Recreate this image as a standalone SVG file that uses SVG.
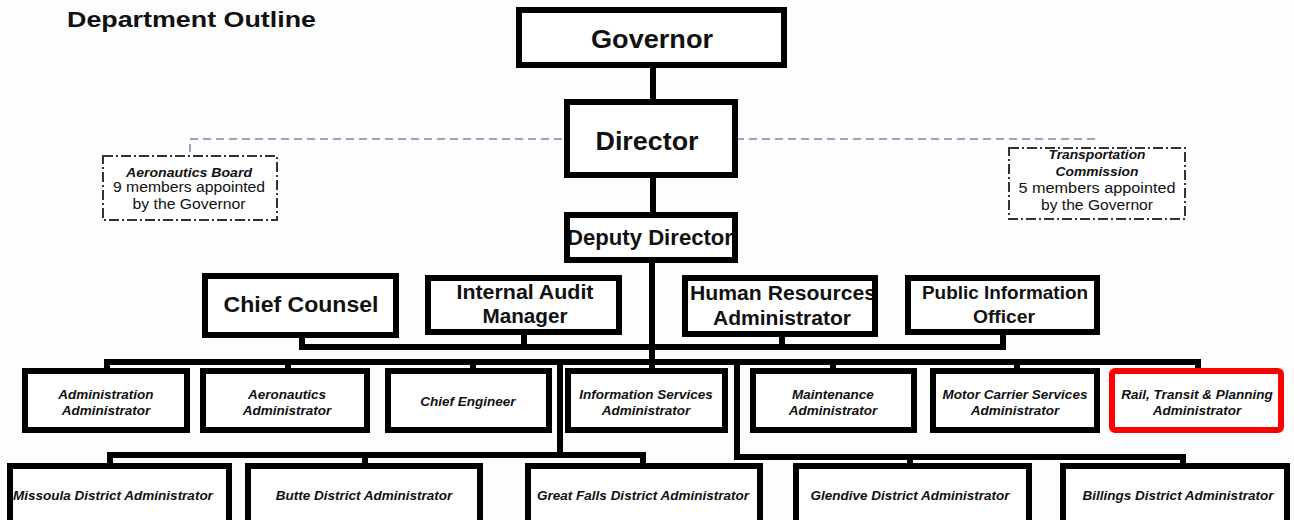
<svg xmlns="http://www.w3.org/2000/svg" width="1294" height="520" viewBox="0 0 1294 520">
<style>
.bg{fill:#fff}
.box{fill:#fff;stroke:#000;stroke-width:6}
.bd{fill:none;stroke:#000;stroke-width:6}
.red{fill:#fff;stroke:#ff0000;stroke-width:6}
.dbox{fill:#fff;stroke:#333;stroke-width:2;stroke-dasharray:10 3 2 3}
.c{fill:none;stroke:#000;stroke-width:6}
.blue{fill:none;stroke:#9aa3c6;stroke-width:2;stroke-dasharray:8 5}
text{font-family:"Liberation Sans",Arial,sans-serif;fill:#111}
.b{font-weight:bold;text-anchor:middle}
.it{font-weight:bold;font-style:italic;font-size:13.5px;text-anchor:middle}
.rg{font-size:14px;text-anchor:middle}
</style>
<rect width="1294" height="520" fill="#fdfdfd"/>
<text x="67" y="27" font-size="22" font-weight="bold" textLength="249" lengthAdjust="spacingAndGlyphs">Department Outline</text>

<g id="connectors">
  <path class="blue" d="M190 152 V139 H566 M736 139 H1100"/>
  <path class="c" d="M653 66 V101 M653 176 V214 M652 261 V370"/>
  <path class="c" d="M302 336 V347 H1003 V334 M524 333 V347 M782 335 V347"/>
  <path class="c" d="M107 370 V362 H1198 V370 M288 362 V370 M473 362 V370 M833 362 V370 M1017 362 V370"/>
  <path class="c" d="M560 362 V455 M110 466 V455 H643 V466 M365 455 V466"/>
  <path class="c" d="M737 362 V457 H1183 V466 M910 457 V466"/>
</g>

<g id="governor"><rect class="box" x="519" y="10" width="265" height="55"/>
<text class="b" x="652" y="48" font-size="26" textLength="122" lengthAdjust="spacingAndGlyphs">Governor</text></g>

<g id="director"><rect class="box" x="567" y="102" width="168" height="73"/>
<text class="b" x="647" y="150" font-size="26" textLength="103" lengthAdjust="spacingAndGlyphs">Director</text></g>

<g id="deputy-director"><rect class="bg" x="567" y="215" width="168" height="45"/>
<text class="b" x="650" y="245" font-size="22" textLength="166" lengthAdjust="spacingAndGlyphs">Deputy Director</text>
<rect class="bd" x="567" y="215" width="168" height="45"/></g>

<g id="aeronautics-board"><rect class="dbox" x="103" y="156" width="174" height="64"/>
<text class="it" x="189" y="177" textLength="126" lengthAdjust="spacingAndGlyphs">Aeronautics Board</text>
<text class="rg" x="189" y="192" textLength="152" lengthAdjust="spacingAndGlyphs">9 members appointed</text>
<text class="rg" x="189" y="209" textLength="113" lengthAdjust="spacingAndGlyphs">by the Governor</text></g>

<g id="transportation-commission"><rect class="dbox" x="1009" y="148" width="176" height="71"/>
<text class="it" x="1097" y="159" textLength="97" lengthAdjust="spacingAndGlyphs">Transportation</text>
<text class="it" x="1097" y="176" textLength="83" lengthAdjust="spacingAndGlyphs">Commission</text>
<text class="rg" x="1097" y="193" textLength="157" lengthAdjust="spacingAndGlyphs">5 members appointed</text>
<text class="rg" x="1097" y="210" textLength="112" lengthAdjust="spacingAndGlyphs">by the Governor</text></g>

<g id="chief-counsel"><rect class="box" x="205" y="276" width="191" height="59"/>
<text class="b" x="301" y="312" font-size="22" textLength="155" lengthAdjust="spacingAndGlyphs">Chief Counsel</text></g>

<g id="internal-audit"><rect class="box" x="428" y="278" width="191" height="54"/>
<text class="b" x="525" y="299" font-size="20" textLength="137" lengthAdjust="spacingAndGlyphs">Internal Audit</text>
<text class="b" x="525" y="323" font-size="20" textLength="85" lengthAdjust="spacingAndGlyphs">Manager</text></g>

<g id="human-resources"><rect class="bg" x="685" y="278" width="190" height="56"/>
<text class="b" x="783" y="300" font-size="20" textLength="186" lengthAdjust="spacingAndGlyphs">Human Resources</text>
<text class="b" x="782" y="325" font-size="20" textLength="138" lengthAdjust="spacingAndGlyphs">Administrator</text>
<rect class="bd" x="685" y="278" width="190" height="56"/></g>

<g id="public-information"><rect class="box" x="908" y="278" width="189" height="54"/>
<text class="b" x="1005" y="299" font-size="19" textLength="166" lengthAdjust="spacingAndGlyphs">Public Information</text>
<text class="b" x="1004" y="323" font-size="19" textLength="62" lengthAdjust="spacingAndGlyphs">Officer</text></g>

<g id="administration"><rect class="box" x="25" y="371" width="162" height="59"/>
<text class="it" x="106" y="399">Administration</text><text class="it" x="106" y="415">Administrator</text></g>
<g id="aeronautics"><rect class="box" x="203" y="371" width="164" height="59"/>
<text class="it" x="287" y="399">Aeronautics</text><text class="it" x="287" y="415">Administrator</text></g>
<g id="chief-engineer"><rect class="box" x="388" y="371" width="161" height="59"/>
<text class="it" x="468" y="406">Chief Engineer</text></g>
<g id="information-services"><rect class="box" x="568" y="371" width="157" height="59"/>
<text class="it" x="646" y="399">Information Services</text><text class="it" x="646" y="415">Administrator</text></g>
<g id="maintenance"><rect class="box" x="753" y="371" width="161" height="59"/>
<text class="it" x="833" y="399">Maintenance</text><text class="it" x="833" y="415">Administrator</text></g>
<g id="motor-carrier"><rect class="box" x="933" y="371" width="164" height="59"/>
<text class="it" x="1015" y="399">Motor Carrier Services</text><text class="it" x="1015" y="415">Administrator</text></g>
<g id="rail-transit"><rect class="red" x="1112" y="371" width="169" height="59" rx="3"/>
<text class="it" x="1197" y="399">Rail, Transit &amp; Planning</text><text class="it" x="1197" y="415">Administrator</text></g>

<g id="missoula"><rect class="bg" x="10" y="466" width="219" height="80"/>
<text class="it" x="113" y="500">Missoula District Administrator</text>
<rect class="bd" x="10" y="466" width="219" height="80"/></g>
<g id="butte"><rect class="box" x="248" y="466" width="232" height="80"/>
<text class="it" x="364" y="500">Butte District Administrator</text></g>
<g id="great-falls"><rect class="box" x="528" y="466" width="232" height="80"/>
<text class="it" x="643" y="500">Great Falls District Administrator</text></g>
<g id="glendive"><rect class="box" x="796" y="466" width="233" height="80"/>
<text class="it" x="910" y="500">Glendive District Administrator</text></g>
<g id="billings"><rect class="box" x="1063" y="466" width="224" height="80"/>
<text class="it" x="1178" y="500">Billings District Administrator</text></g>
</svg>
